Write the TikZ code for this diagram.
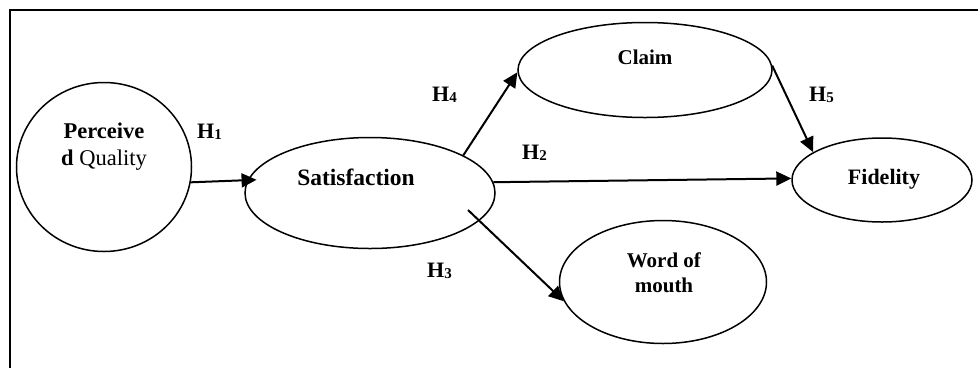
\documentclass[tikz,border=0pt]{standalone}
\usepackage{fontspec}
\setmainfont{Liberation Serif}
\usetikzlibrary{shapes.geometric,arrows.meta}
\newcommand{\hyp}[1]{\textbf{H}\raisebox{-1.5pt}{\fontsize{15}{15}\selectfont\textbf{#1}}}
\tikzset{
  construct/.style={draw=black, line width=1.5pt, ellipse, inner sep=0pt},
  lbl/.style={inner sep=0pt, anchor=base, text=black},
  hlbl/.style={inner sep=0pt, anchor=base west, font=\fontsize{22}{22}\selectfont},
  conn/.style={draw=black, line width=2pt, -{Triangle[length=15pt,width=14pt]}},
  frameline/.style={draw=black, line width=1.6pt}
}
\begin{document}
\begin{tikzpicture}[x=1pt,y=-1pt]
\useasboundingbox (0,0) rectangle (978,368);
% frame
\coordinate (fa) at (10,368);
\coordinate (fb) at (10,10);
\coordinate (fc) at (978,10);
\draw[frameline] (fa) -- (fb) -- (fc);

% constructs
\node[construct, minimum width=175pt, minimum height=169pt] (pq) at (104,167) {};
\node[construct, minimum width=250pt, minimum height=111pt] (sat) at (370,193) {};
\node[construct, minimum width=254pt, minimum height=95pt] (claim) at (645,70) {};
\node[construct, minimum width=180pt, minimum height=84pt] (fid) at (882,180) {};
\node[construct, minimum width=207pt, minimum height=123pt] (wom) at (663,282) {};

% texts
\node[lbl, font=\fontsize{22.5}{22.5}\selectfont] (pqa) at (104,138) {\textbf{Perceive}};
\node[lbl, font=\fontsize{22.5}{22.5}\selectfont] (pqb) at (104,165) {\textbf{d} Quality};
\node[lbl, font=\fontsize{23.5}{23.5}\selectfont] (sata) at (356,185) {\textbf{Satisfaction}};
\node[lbl, font=\fontsize{21}{21}\selectfont] (claima) at (645,64) {\textbf{Claim}};
\node[lbl, font=\fontsize{22}{22}\selectfont] (fida) at (884,184) {\textbf{Fidelity}};
\node[lbl, font=\fontsize{21}{21}\selectfont] (woma) at (664,267) {\textbf{Word of}};
\node[lbl, font=\fontsize{21}{21}\selectfont] (womb) at (664,292) {\textbf{mouth}};

% hypothesis labels
\node[hlbl] (h1) at (197,138) {\hyp{1}};
\node[hlbl] (h4) at (432,101) {\hyp{4}};
\node[hlbl] (h2) at (522,159) {\hyp{2}};
\node[hlbl] (h3) at (427,277) {\hyp{3}};
\node[hlbl] (h5) at (809,101) {\hyp{5}};

% connectors
\coordinate (h3s) at (468,210);
\draw[conn, shorten >=-9pt] (pq.-10) -- (sat.174);
\draw[conn] (sat.5) -- (fid.179);
\draw[conn] (sat.22) -- (claim.181);
\draw[conn] (h3s) -- (wom.191);
\draw[conn] (claim.2) -- (fid.158);
\end{tikzpicture}
\end{document}
